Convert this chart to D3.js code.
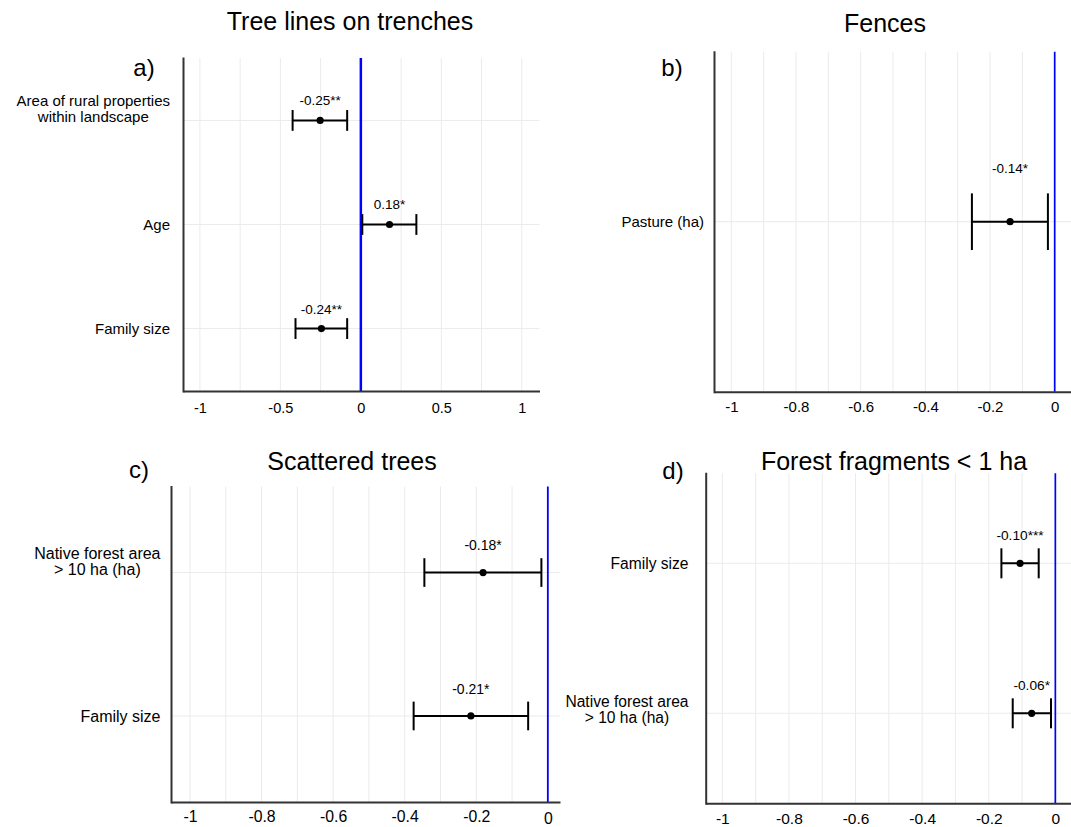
<!DOCTYPE html>
<html>
<head>
<meta charset="utf-8">
<script src="https://cdn.jsdelivr.net/npm/d3@7"></script>
<style>
  body { margin: 0; background: #fff; }
  svg text { font-family: "Liberation Sans", Arial, sans-serif; fill: #000; }
</style>
</head>
<body>
<div id="chart"></div>
<script>
// ---- data ----
var titles = ["Tree lines on trenches", "Fences", "Scattered trees", "Forest fragments < 1 ha"];
var tags = ["a)", "b)", "c)", "d)"];

var aTerms = ["Area of rural properties\nwithin landscape", "Age", "Family size"];
var aEst = [-0.253, 0.178, -0.245];
var aLow = [-0.424, 0.009, -0.406];
var aHigh = [-0.085, 0.345, -0.085];
var aText = ["-0.25**", "0.18*", "-0.24**"];
var aTicks = [-1, -0.5, 0, 0.5, 1];

var bTerms = ["Pasture (ha)"];
var bEst = [-0.138];
var bLow = [-0.256];
var bHigh = [-0.021];
var bText = ["-0.14*"];
var bTicks = [-1, -0.8, -0.6, -0.4, -0.2, 0];

var cTerms = ["Native forest area\n> 10 ha (ha)", "Family size"];
var cEst = [-0.181, -0.215];
var cLow = [-0.345, -0.375];
var cHigh = [-0.018, -0.055];
var cText = ["-0.18*", "-0.21*"];
var cTicks = [-1, -0.8, -0.6, -0.4, -0.2, 0];

var dTerms = ["Family size", "Native forest area\n> 10 ha (ha)"];
var dEst = [-0.106, -0.071];
var dLow = [-0.162, -0.128];
var dHigh = [-0.05, -0.013];
var dText = ["-0.10***", "-0.06*"];
var dTicks = [-1, -0.8, -0.6, -0.4, -0.2, 0];

var svg = d3.select("#chart").append("svg")
    .attr("width", 1071)
    .attr("height", 827);

svg.append("rect").attr("width", 1071).attr("height", 827).attr("fill", "#fff");

// layout of each panel (pixels)
var panels = [
  { terms: aTerms, est: aEst, low: aLow, high: aHigh, txt: aText, ticks: aTicks, grid: 0.25,
    xDom: [-1.105, 1.11], xRng: [183, 539.5], yRng: [58, 391],
    title: [350, 30], tag: [144, 76], labRight: 170, labFs: 15, tickFs: 14.5, tickPad: 12,
    firstLine: -19.2, lineH: 15.2, zeroW: 2.5, annFs: 13.5 },
  { terms: bTerms, est: bEst, low: bLow, high: bHigh, txt: bText, ticks: bTicks, grid: 0.1,
    xDom: [-1.0535, 0.0504], xRng: [714, 1071], yRng: [51.7, 391.7],
    title: [885, 31.5], tag: [672, 76], labRight: 704, labFs: 15, tickFs: 15, tickPad: 9.7,
    firstLine: 0, lineH: 15, zeroW: 1.7, annFs: 13.5 },
  { terms: cTerms, est: cEst, low: cLow, high: cHigh, txt: cText, ticks: cTicks, grid: 0.1,
    xDom: [-1.053, 0.034], xRng: [171, 560], yRng: [486.5, 802],
    title: [352, 470], tag: [139, 478], labRight: 160.5, labFs: 16, tickFs: 15.8, tickPad: 9.2,
    firstLine: -19, lineH: 15.8, zeroW: 1.8, annFs: 14 },
  { terms: dTerms, est: dEst, low: dLow, high: dHigh, txt: dText, ticks: dTicks, grid: 0.1,
    xDom: [-1.05, 0.047], xRng: [705.7, 1071], yRng: [473.3, 803.3],
    title: [894, 469.5], tag: [673, 479], labRight: 688.5, labFs: 15.6, tickFs: 15.5, tickPad: 9.6,
    firstLine: -12, lineH: 16.6, zeroW: 1.7, annFs: 13.7 }
];

panels.forEach(function(p, pi) {
  var g = svg.append("g");
  var x = d3.scaleLinear().domain(p.xDom).range(p.xRng);
  var y = d3.scalePoint().domain(p.terms).range(p.yRng).padding(0.6);
  var step = y.step();
  var top = p.yRng[0], bot = p.yRng[1];

  // vertical grid
  var gridVals = d3.range(Math.ceil(p.xDom[0] / p.grid), Math.floor(p.xDom[1] / p.grid) + 1)
      .map(function(k) { return +(k * p.grid).toFixed(3); });
  g.selectAll(".vgrid").data(gridVals).enter().append("line")
      .attr("x1", function(d) { return x(d); })
      .attr("x2", function(d) { return x(d); })
      .attr("y1", top).attr("y2", bot)
      .attr("stroke", "#ebebeb").attr("stroke-width", 1);

  // horizontal grid
  g.selectAll(".hgrid").data(p.terms).enter().append("line")
      .attr("x1", p.xRng[0]).attr("x2", p.xRng[1])
      .attr("y1", function(d) { return y(d); })
      .attr("y2", function(d) { return y(d); })
      .attr("stroke", "#ebebeb").attr("stroke-width", 1);

  // zero line
  g.append("line")
      .attr("x1", x(0)).attr("x2", x(0))
      .attr("y1", top).attr("y2", bot)
      .attr("stroke", "#0000ff").attr("stroke-width", p.zeroW);

  // axes
  var xAx = g.append("g").attr("transform", "translate(0," + bot + ")")
      .call(d3.axisBottom(x).tickValues(p.ticks).tickSize(0).tickPadding(p.tickPad)
        .tickFormat(function(d) { return String(d); }));
  xAx.select(".domain").attr("stroke", "#333").attr("stroke-width", 2);
  xAx.selectAll("text").attr("font-size", p.tickFs + "px").attr("fill", "#000")
      .style("font-family", '"Liberation Sans", Arial, sans-serif');
  if (pi == 2) {
    // the 0 label sits a bit lower in this panel
    xAx.selectAll(".tick").filter(function(d) { return d === 0; })
        .select("text").attr("y", p.tickPad + 2);
  }

  var yAx = g.append("g").attr("transform", "translate(" + p.xRng[0] + ",0)")
      .call(d3.axisLeft(y).tickSize(0).tickFormat(""));
  yAx.select(".domain").attr("stroke", "#333").attr("stroke-width", 2)
      .attr("stroke-linecap", "square");

  // row labels (multi-line ones centred on each other)
  p.terms.forEach(function(t) {
    var lines = t.split("\n");
    var lab = g.append("text").attr("font-size", p.labFs + "px");
    if (lines.length == 1) {
      lab.attr("x", p.labRight).attr("y", y(t)).attr("dy", "0.35em")
         .attr("text-anchor", "end").text(t);
    } else {
      var spans = lines.map(function(l, li) {
        return lab.append("tspan").attr("y", y(t) + p.firstLine + li * p.lineH)
                  .attr("dy", "0.35em").attr("text-anchor", "middle").text(l);
      });
      var wMax = d3.max(spans, function(s) { return s.node().getComputedTextLength(); });
      spans.forEach(function(s) { s.attr("x", p.labRight - wMax / 2); });
    }
  });

  // error bars
  var rows = p.terms.map(function(t, i) {
    return { t: t, est: p.est[i], low: p.low[i], high: p.high[i], txt: p.txt[i] };
  });
  var cap = step * 0.1;
  var eb = g.selectAll(".eb").data(rows).enter().append("g");
  eb.append("line")
      .attr("x1", function(d) { return x(d.low); })
      .attr("x2", function(d) { return x(d.high); })
      .attr("y1", function(d) { return y(d.t); })
      .attr("y2", function(d) { return y(d.t); })
      .attr("stroke", "#000").attr("stroke-width", 2);
  eb.append("line")
      .attr("x1", function(d) { return x(d.low); })
      .attr("x2", function(d) { return x(d.low); })
      .attr("y1", function(d) { return y(d.t) - cap; })
      .attr("y2", function(d) { return y(d.t) + cap; })
      .attr("stroke", "#000").attr("stroke-width", 2);
  eb.append("line")
      .attr("x1", function(d) { return x(d.high); })
      .attr("x2", function(d) { return x(d.high); })
      .attr("y1", function(d) { return y(d.t) - cap; })
      .attr("y2", function(d) { return y(d.t) + cap; })
      .attr("stroke", "#000").attr("stroke-width", 2);
  eb.append("circle")
      .attr("cx", function(d) { return x(d.est); })
      .attr("cy", function(d) { return y(d.t); })
      .attr("r", 3.6).attr("fill", "#000");
  eb.append("text")
      .attr("x", function(d) { return x(d.est); })
      .attr("y", function(d) { return y(d.t) - step * 0.19; })
      .attr("dy", "0.35em")
      .attr("text-anchor", "middle")
      .attr("font-size", p.annFs + "px")
      .text(function(d) { return d.txt; });

  // title and tag
  g.append("text").attr("x", p.title[0]).attr("y", p.title[1])
      .attr("text-anchor", "middle").attr("font-size", "25px").text(titles[pi]);
  g.append("text").attr("x", p.tag[0]).attr("y", p.tag[1])
      .attr("text-anchor", "middle").attr("font-size", "24px").text(tags[pi]);
});
</script>
</body>
</html>
